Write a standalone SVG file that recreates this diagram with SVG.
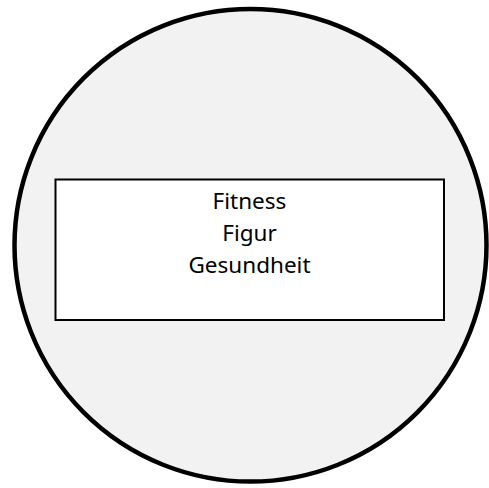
<svg xmlns="http://www.w3.org/2000/svg" width="489" height="488" viewBox="0 0 489 488">
<style>
.lbl{font-family:"Noto Sans","Open Sans","DejaVu Sans",sans-serif;font-size:22.5px;fill:#000;text-anchor:middle}
</style>
<rect width="489" height="488" fill="#fff"/>
<g id="circle">
<ellipse cx="250.5" cy="245.3" rx="236" ry="236.3" fill="#f2f2f2" stroke="#000" stroke-width="4.5"/>
</g>
<g id="box">
<rect x="55.5" y="179.5" width="388.5" height="140.5" fill="#fff" stroke="#000" stroke-width="2"/>
<text class="lbl" x="249.5" y="208.5">Fitness</text>
<text class="lbl" x="249.5" y="240.8">Figur</text>
<text class="lbl" x="249.5" y="273">Gesundheit</text>
</g>
<g id="connectors"/>
</svg>
